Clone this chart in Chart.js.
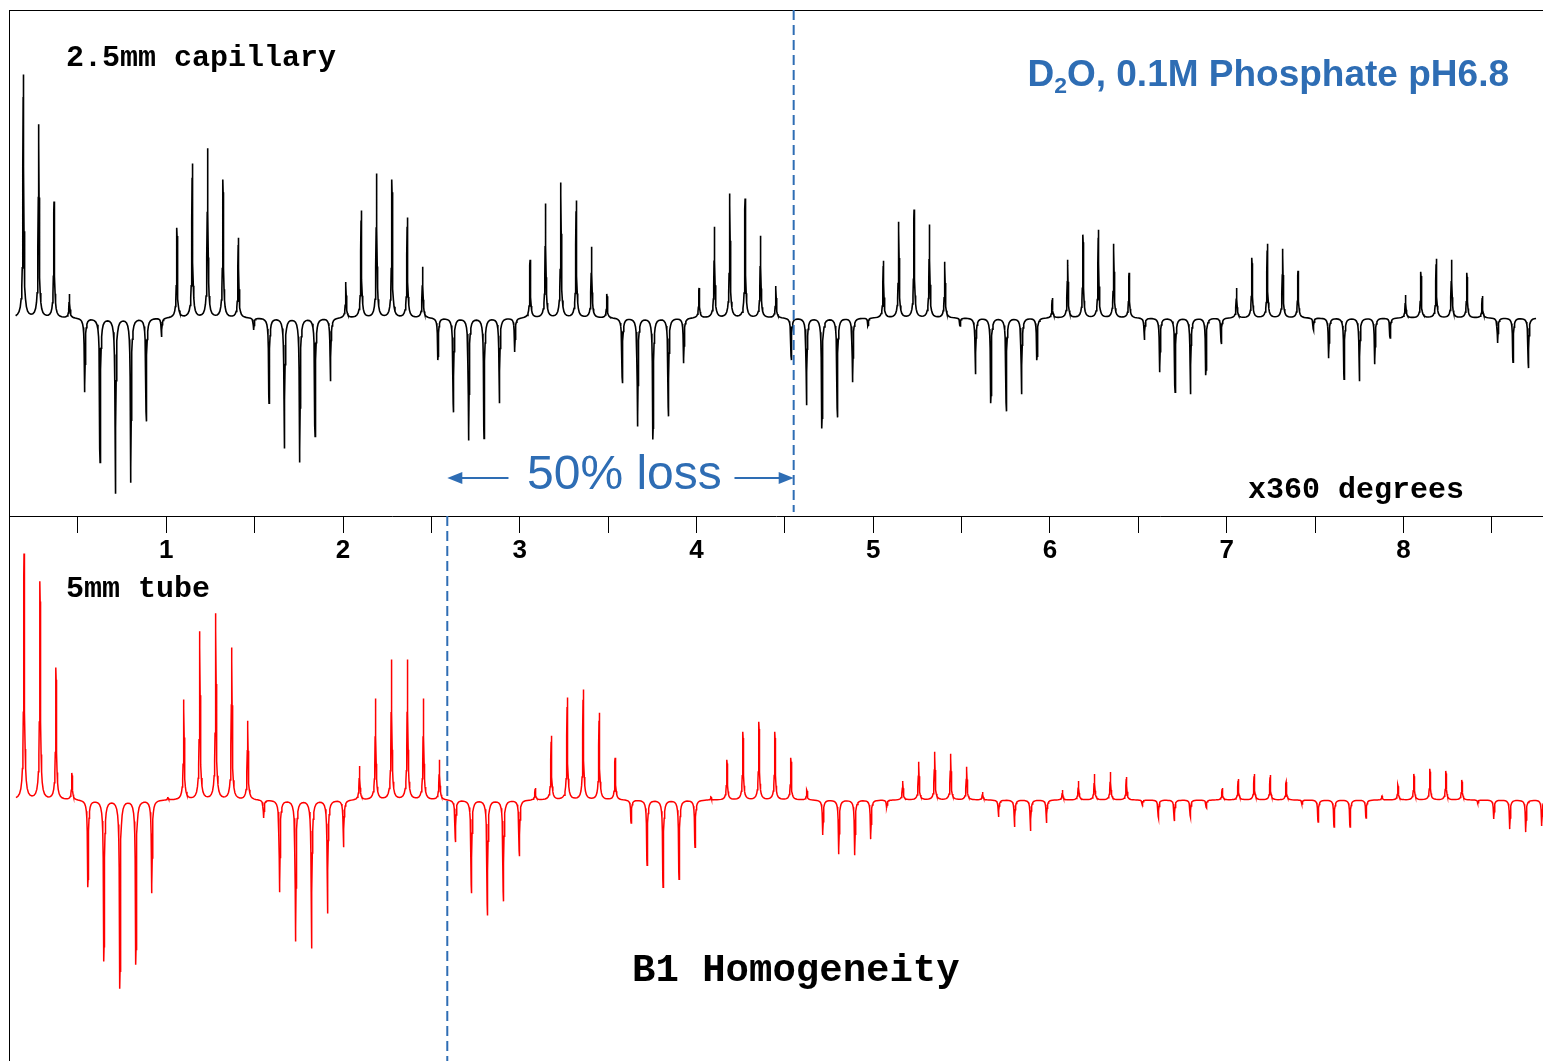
<!DOCTYPE html>
<html>
<head>
<meta charset="utf-8">
<title>B1 Homogeneity</title>
<script src="https://cdn.jsdelivr.net/npm/chart.js@4.4.1/dist/chart.umd.min.js"></script>
<style>
  body { margin: 0; background: #fff; width: 1543px; height: 1061px; overflow: hidden; position: relative; }
  canvas { position: absolute; left: 0; }
  #topChart { top: 0; }
  #bottomChart { top: 516px; }
  .frame { position: absolute; left: 9px; top: 10px; width: 1534px; height: 1051px;
           border-left: 1px solid #000; border-top: 1px solid #000; box-sizing: border-box; }
  .mono { position: absolute; font-family: "Courier New", "Liberation Mono", monospace; font-weight: bold;
          color: #000; white-space: nowrap; line-height: 1; }
  .blue { position: absolute; font-family: "Liberation Sans", Arial, sans-serif; color: #2E6DB4;
          white-space: nowrap; line-height: 1; }
</style>
</head>
<body>
<div class="frame"></div>
<canvas id="topChart" width="1543" height="566"></canvas>
<canvas id="bottomChart" width="1543" height="545"></canvas>

<div class="mono" style="left:66px;top:43px;font-size:30px">2.5mm capillary</div>
<div class="blue" style="right:34px;top:55px;font-size:37px;font-weight:bold">D<span style="font-size:62%;vertical-align:-0.3em">2</span>O, 0.1M Phosphate pH6.8</div>
<div class="blue" style="left:527px;top:449px;font-size:48px">50% loss</div>
<div class="mono" style="left:1248px;top:475px;font-size:30px">x360 degrees</div>
<div class="mono" style="left:66px;top:574px;font-size:30px">5mm tube</div>
<div class="mono" style="left:632px;top:952px;font-size:39px">B1 Homogeneity</div>

<script>
// x axis: pulse length in units of 360 degrees
const X_MIN = 0.11;
const X_MAX = 8.79;
const TICK_VALUES = [0.5, 1, 1.5, 2, 2.5, 3, 3.5, 4, 4.5, 5, 5.5, 6, 6.5, 7, 7.5, 8, 8.5];
const TICK_LABELS = [1, 2, 3, 4, 5, 6, 7, 8];

// where the spectra sit on that axis (first spectrum, spacing between spectra)
const CAPILLARY_X0 = 0.191, CAPILLARY_DX = 0.0869;
const TUBE_X0 = 0.195, TUBE_DX = 0.0904;

// peak height of each spectrum, 2.5mm capillary (black)
const capillary = [
  243, 193, 116, 24, -74, -144, -175, -164, -103, -19,
  90, 154, 169, 138, 80, -12, -85, -130, -144, -118,
  -63, 36, 107, 144, 138, 100, 51, -42, -94, -122,
  -120, -85, -34, 58, 114, 135, 117, 71, 24, -65,
  -108, -121, -98, -45, 30, 91, 124, 119, 82, 32,
  -42, -87, -110, -99, -64, -8, 57, 96, 108, 93,
  56, -8, -56, -85, -93, -76, -42, 20, 58, 83,
  88, 74, 45, -22, -54, -74, -76, -57, -26, 30,
  60, 74, 69, 47, -12, -40, -61, -63, -46, -20,
  23, 46, 59, 58, 45, 22, -25, -44, -50
];

// peak height of each spectrum, 5mm tube (red)
const tube = [
  246, 218, 132, 27, -87, -161, -188, -164, -93, 3,
  100, 168, 186, 152, 79, -18, -92, -141, -148, -113,
  -47, 34, 101, 140, 140, 101, 40, -42, -93, -115,
  -101, -56, 12, 64, 102, 110, 87, 42, -23, -65,
  -87, -79, -47, 3, 40, 68, 78, 68, 42, 10,
  -35, -54, -55, -39, -8, 19, 38, 48, 46, 33,
  8, -17, -27, -31, -23, 10, 19, 26, 28, 23,
  -5, -18, -21, -17, -8, 12, 21, 26, 25, 18,
  -4, -22, -27, -27, -18, 4, 15, 26, 31, 29,
  20, -3, -19, -29, -32, -26
];

// the 50% loss marker, on the x axis
const LOSS_FROM = 2.59;
const LOSS_TO = 4.55;

const BLUE = '#2E6DB4';

// line shape of one peak: sharp core plus a little broad foot (widths in spectrum steps)
const CORE_WIDTH = 0.03, FOOT_WIDTH = 0.13, FOOT_SHARE = 0.08;
const OFFSETS = [-0.5, -0.38, -0.28, -0.2, -0.14, -0.1, -0.07, -0.045, -0.025, -0.01, 0,
                 0.01, 0.025, 0.045, 0.07, 0.1, 0.14, 0.2, 0.28, 0.38];

function lorentz(d, w) { const u = d / w; return 1 / (1 + u * u); }

function trace(heights, x0, dx) {
  const pts = [];
  const n = heights.length;
  const add = (s) => {
    let y = 0;
    const i = Math.round(s);
    for (let j = Math.max(0, i - 5); j <= Math.min(n - 1, i + 5); j++) {
      const d = s - j;
      y += heights[j] * ((1 - FOOT_SHARE) * lorentz(d, CORE_WIDTH) + FOOT_SHARE * lorentz(d, FOOT_WIDTH));
    }
    pts.push({ x: x0 + s * dx, y: y });
  };
  for (let i = 0; i < n; i++) OFFSETS.forEach(o => add(i + o));
  add(n - 0.5);
  return pts;
}

function dashedLine(ctx, x, y1, y2) {
  ctx.save();
  ctx.strokeStyle = BLUE;
  ctx.lineWidth = 2;
  ctx.setLineDash([10, 5]);
  ctx.beginPath();
  ctx.moveTo(x, y1);
  ctx.lineTo(x, y2);
  ctx.stroke();
  ctx.restore();
}

function arrow(ctx, from, to, y) {
  const dir = Math.sign(to - from);
  ctx.beginPath();
  ctx.moveTo(from, y);
  ctx.lineTo(to - dir * 8, y);
  ctx.stroke();
  ctx.beginPath();
  ctx.moveTo(to, y);
  ctx.lineTo(to - dir * 15, y - 6);
  ctx.lineTo(to - dir * 15, y + 6);
  ctx.closePath();
  ctx.fill();
}

const lossTop = {
  id: 'lossTop',
  afterDatasetsDraw(chart) {
    const { ctx, chartArea, scales } = chart;
    const x1 = scales.x.getPixelForValue(LOSS_FROM);
    const x2 = scales.x.getPixelForValue(LOSS_TO);
    dashedLine(ctx, x2, chartArea.top, chartArea.bottom - 4);
    const mid = (x1 + x2) / 2, y = 478;
    ctx.save();
    ctx.strokeStyle = BLUE;
    ctx.fillStyle = BLUE;
    ctx.lineWidth = 2;
    arrow(ctx, mid - 112, x1, y);
    arrow(ctx, mid + 114, x2, y);
    ctx.restore();
  }
};

const lossBottom = {
  id: 'lossBottom',
  afterDatasetsDraw(chart) {
    const { ctx, chartArea, scales } = chart;
    dashedLine(ctx, scales.x.getPixelForValue(LOSS_FROM), chartArea.top, chartArea.bottom);
  }
};

Chart.defaults.font.family = '"Liberation Sans", Arial, sans-serif';

new Chart(document.getElementById('topChart'), {
  type: 'line',
  data: {
    datasets: [{
      data: trace(capillary, CAPILLARY_X0, CAPILLARY_DX),
      borderColor: '#000',
      borderWidth: 1.6,
      pointRadius: 0,
      tension: 0
    }]
  },
  options: {
    responsive: false,
    animation: false,
    layout: { padding: { left: 9, top: 10, right: 0, bottom: 0 } },
    plugins: { legend: { display: false }, tooltip: { enabled: false } },
    scales: {
      x: {
        type: 'linear',
        min: X_MIN,
        max: X_MAX,
        afterBuildTicks(s) {
          s.ticks = TICK_VALUES.map(v => ({ value: v }));
        },
        afterFit(s) { s.height = 50; },
        ticks: {
          autoSkip: false,
          maxRotation: 0,
          padding: 2,
          color: '#000',
          font: { size: 26, weight: 'bold' },
          callback: (v) => TICK_LABELS.includes(v) ? String(v) : ''
        },
        grid: { drawOnChartArea: false, tickLength: 17, color: '#000', lineWidth: 1 },
        border: { color: '#000', width: 1 }
      },
      y: { display: false, min: -198, max: 308 }
    }
  },
  plugins: [lossTop]
});

new Chart(document.getElementById('bottomChart'), {
  type: 'line',
  data: {
    datasets: [{
      data: trace(tube, TUBE_X0, TUBE_DX),
      borderColor: '#FF0000',
      borderWidth: 1.5,
      pointRadius: 0,
      tension: 0
    }]
  },
  options: {
    responsive: false,
    animation: false,
    layout: { padding: { left: 9, top: 0, right: 0, bottom: 0 } },
    plugins: { legend: { display: false }, tooltip: { enabled: false } },
    scales: {
      x: { type: 'linear', display: false, min: X_MIN, max: X_MAX },
      y: { display: false, min: -261, max: 284 }
    }
  },
  plugins: [lossBottom]
});
</script>
</body>
</html>
